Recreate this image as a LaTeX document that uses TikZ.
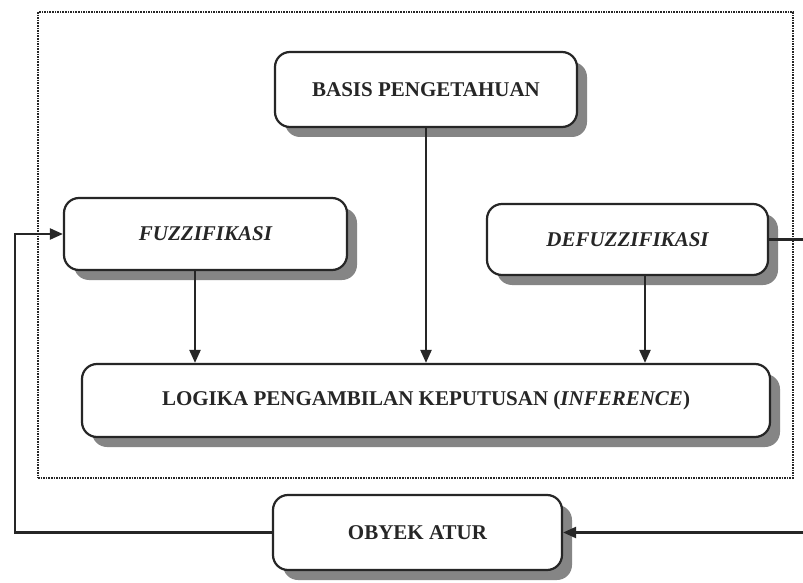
\documentclass[tikz,border=0pt]{standalone}
\usepackage{fontspec}
\setmainfont{Liberation Serif}
\usetikzlibrary{arrows.meta,shadows}
\definecolor{ink}{HTML}{262626}
\definecolor{shade}{HTML}{858585}
\tikzset{
  blk/.style={draw=ink, line width=2.2pt, rounded corners=15pt, fill=white,
    font=\fontsize{21}{24}\selectfont\bfseries, text=ink, align=center,
    drop shadow={shadow xshift=10pt, shadow yshift=-10pt, fill=shade, opacity=1}},
  conn/.style={draw=ink, line width=2.2pt},
  arr/.style={conn, -{Triangle[length=13pt,width=11pt]}},
  outline/.style={draw=ink, line width=2pt, dash pattern=on 1.6pt off 1pt}
}
\begin{document}
\begin{tikzpicture}[x=1pt,y=-1pt]
\useasboundingbox (0,0) rectangle (803,583);
\clip (0,0) rectangle (803,583);
\fill[white] (0,0) rectangle (803,583);
\node[outline, minimum width=755pt, minimum height=466pt, inner sep=0pt] (frame) at (415.5,245) {};
\node[blk, minimum width=302pt, minimum height=75pt] (basis) at (426,89.5) {BASIS PENGETAHUAN};
\node[blk, minimum width=283pt, minimum height=72pt] (fuzz) at (205.5,234) {\itshape FUZZIFIKASI};
\node[blk, minimum width=281pt, minimum height=71pt] (defuzz) at (627.5,239.5) {\itshape DEFUZZIFIKASI};
\node[blk, minimum width=688pt, minimum height=73pt] (logika) at (426,400.5) {LOGIKA PENGAMBILAN KEPUTUSAN ({\itshape INFERENCE})};
\node[blk, minimum width=289pt, minimum height=75pt] (obyek) at (417.5,532.5) {OBYEK ATUR};
\coordinate (lft) at (15,0);
\coordinate (rgt) at (820,0);
\draw[arr] (fuzz.south -| 195,0) -- (logika.north -| 195,0);
\draw[arr] (basis.south) -- (logika.north -| basis.south);
\draw[arr] (defuzz.south -| 645,0) -- (logika.north -| 645,0);
\draw[arr] (obyek.west) -- (obyek.west -| lft) -- (fuzz.west -| lft) -- (fuzz.west);
\draw[arr] (defuzz.east) -- (defuzz.east -| rgt) -- (obyek.east -| rgt) -- (obyek.east);
\end{tikzpicture}
\end{document}
